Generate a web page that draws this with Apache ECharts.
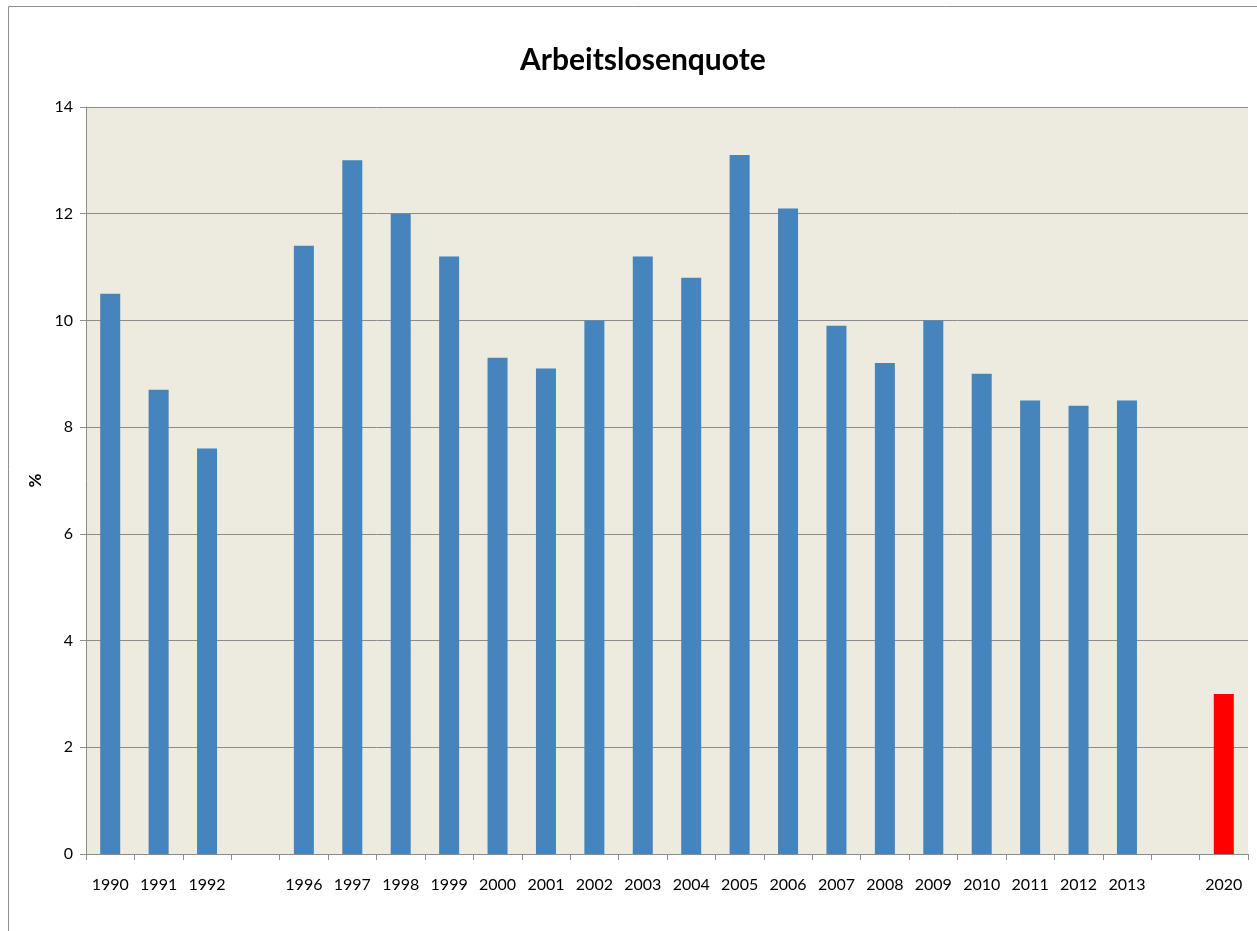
<!DOCTYPE html>
<html>
<head>
<meta charset="utf-8">
<script src="https://cdn.jsdelivr.net/npm/echarts@6/dist/echarts.min.js"></script>
<style>
  html, body { margin: 0; padding: 0; background: #fff; }
  #myChart { width: 1257px; height: 931px; }
</style>
</head>
<body>
<div id="myChart"></div>
<script>
// years on the axis, gaps are empty slots
const years = ['1990', '1991', '1992', '', '1996', '1997', '1998', '1999', '2000', '2001', '2002',
  '2003', '2004', '2005', '2006', '2007', '2008', '2009', '2010', '2011', '2012', '2013', ' ', '2020']
// Arbeitslosenquote in %
const quote = [10.5, 8.7, 7.6, null, 11.4, 13.0, 12.0, 11.2, 9.3, 9.1, 10.0,
  11.2, 10.8, 13.1, 12.1, 9.9, 9.2, 10.0, 9.0, 8.5, 8.4, 8.5, null, 3.0]
const targetYear = '2020'
const yTicks = [0, 2, 4, 6, 8, 10, 12, 14]

const font = 'Lato, "Open Sans", sans-serif'

let myChart = echarts.init(document.getElementById('myChart'))
myChart.setOption({
  animation: false,
  title: {
    text: 'Arbeitslosenquote',
    left: 515,
    top: 40,
    textStyle: { fontFamily: font, fontSize: 30, fontWeight: 'bold', color: '#000' }
  },
  graphic: [{
    type: 'rect',
    shape: { x: 8.5, y: 6.5, width: 1300, height: 1000 },
    style: { fill: 'none', stroke: '#8f8f8f', lineWidth: 1 },
    silent: true
  }],
  grid: {
    left: 86,
    right: 9,
    top: 107,
    bottom: 77,
    show: true,
    backgroundColor: '#edeae0',
    borderWidth: 0
  },
  xAxis: {
    type: 'category',
    data: years,
    axisLine: { lineStyle: { color: '#8c8c8c' } },
    axisTick: { show: true, length: 6, interval: 0, lineStyle: { color: '#8c8c8c' } },
    axisLabel: { interval: 0, margin: 23, fontFamily: font, fontSize: 16, color: '#000' }
  },
  yAxis: {
    type: 'value',
    min: yTicks[0],
    max: yTicks[yTicks.length - 1],
    interval: 2,
    name: '%',
    nameLocation: 'middle',
    nameGap: 36,
    nameTextStyle: { fontFamily: font, fontSize: 17, fontWeight: 'bold', color: '#000' },
    axisLine: { show: true, lineStyle: { color: '#8c8c8c' } },
    axisTick: { show: true, length: 6, lineStyle: { color: '#8c8c8c' } },
    axisLabel: { margin: 13, fontFamily: font, fontSize: 16, color: '#000' },
    splitLine: { lineStyle: { color: '#8c8c8c', width: 1 } }
  },
  series: [{
    type: 'bar',
    barWidth: 20,
    data: quote.map((v, i) => ({
      value: v,
      itemStyle: { color: years[i] === targetYear ? '#ff0000' : '#4584bc' }
    }))
  }]
})
</script>
</body>
</html>
